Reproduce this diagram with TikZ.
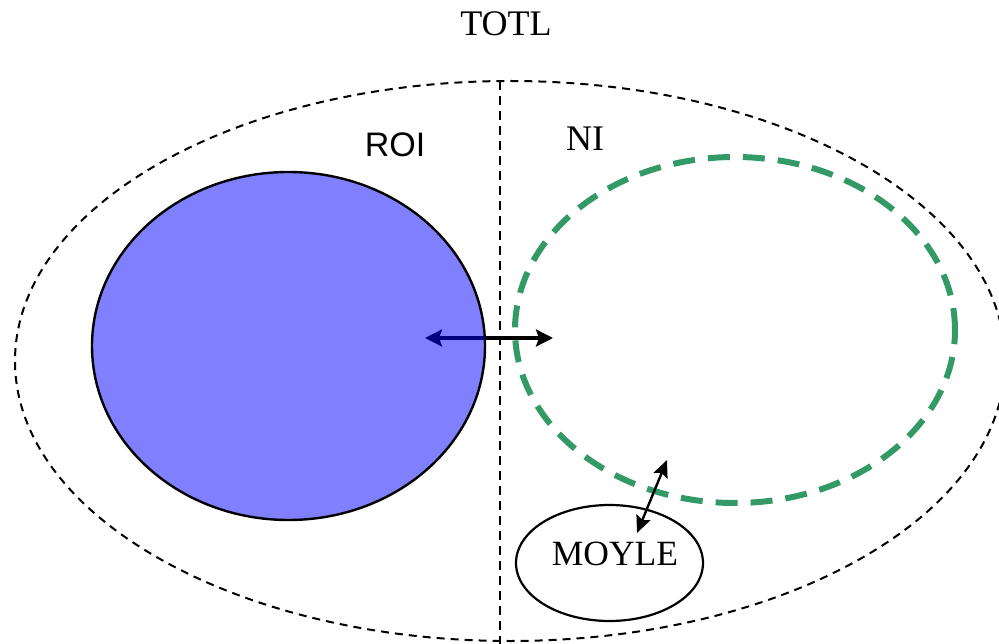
\documentclass[tikz,border=0pt]{standalone}
\usepackage{fontspec}
\setmainfont{Liberation Serif}
\newfontfamily\arialfont{Liberation Sans}
\usetikzlibrary{arrows.meta,shapes.geometric}
\definecolor{regionblue}{HTML}{8080FF}
\definecolor{regiongreen}{HTML}{339966}
\definecolor{arrownavy}{HTML}{000080}
\tikzset{
  outerset/.style={draw, dash pattern=on 8pt off 6pt, line width=2pt},
  roiset/.style={draw=black, fill=regionblue, line width=2.4pt},
  niset/.style={draw=regiongreen, dash pattern=on 22pt off 13pt, line width=6pt},
  moyleset/.style={draw, line width=2.2pt},
  divider/.style={dash pattern=on 9pt off 6pt, line width=2pt},
  link/.style={line width=3.2pt, -{Stealth[length=17pt,width=17pt,inset=3pt]}},
  biglabel/.style={font=\fontsize{36}{40}\selectfont, inner sep=0pt},
}
\begin{document}
\begin{tikzpicture}[x=1pt,y=-1pt]
  \useasboundingbox (0,0) rectangle (999,644);
  \clip (0,0) rectangle (999,644);

  % overall region and the divider between its halves
  \draw[outerset] (510,361) ellipse [x radius=495, y radius=280];
  \coordinate (divtop) at (500,81);
  \coordinate (divbot) at (500,644);
  \draw[divider] (divtop) -- (divbot);

  % the two sub-regions and the small one
  \node[roiset, ellipse, minimum width=393pt, minimum height=348pt, inner sep=0pt] (roi) at (288.5,346) {};
  \node[niset, ellipse, minimum width=440pt, minimum height=346pt, inner sep=0pt] (ni) at (735,330) {};
  \node[moyleset, ellipse, minimum width=187pt, minimum height=116pt, inner sep=0pt] (moyle) at (609.5,563) {};

  % labels
  \node[biglabel] (totl) at (506,24) {TOTL};
  \node[biglabel, font=\arialfont\fontsize{34}{40}\selectfont] (roilab) at (395,145) {ROI};
  \node[biglabel] (nilab) at (585,139) {NI};
  \node[biglabel, font=\fontsize{35.5}{40}\selectfont] (moylelab) at (615,554) {MOYLE};

  % exchange arrows
  \coordinate (roiedge) at (485,338);
  \coordinate (roitip) at (425,338);
  \coordinate (nitip) at (553,338);
  \draw[link, draw=arrownavy, fill=arrownavy] (roiedge) -- (roitip);
  \draw[link] (roiedge) -- (nitip);

  \coordinate (nilow) at (667,460);
  \coordinate (moyletop) at (637,533);
  \draw[line width=2.4pt, {Stealth[length=17pt,width=15pt,inset=3pt]}-{Stealth[length=17pt,width=15pt,inset=3pt]}] (moyletop) -- (nilow);
\end{tikzpicture}
\end{document}
